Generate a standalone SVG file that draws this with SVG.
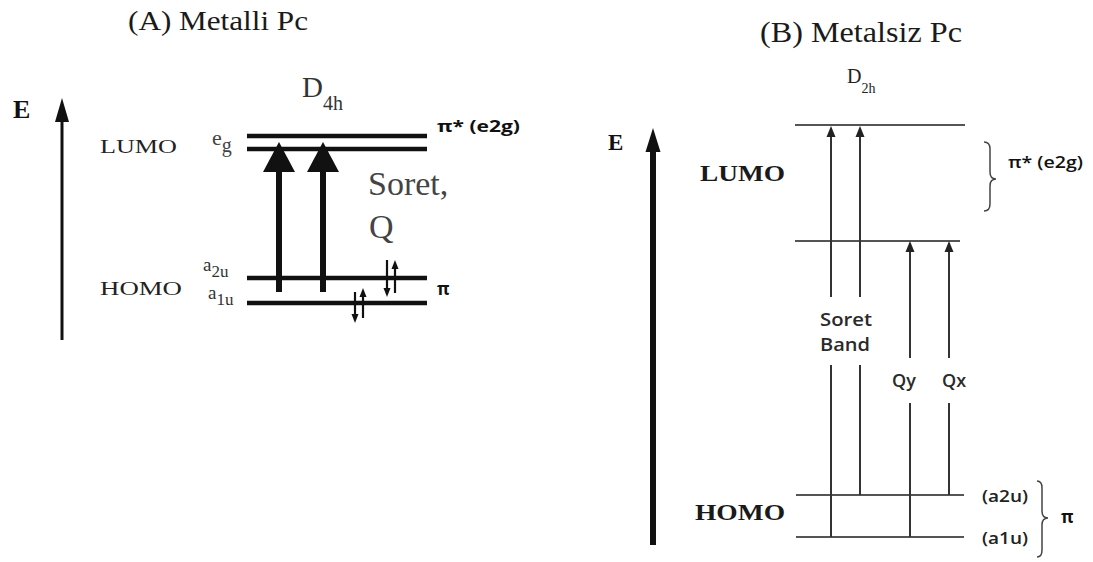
<svg xmlns="http://www.w3.org/2000/svg" width="1093" height="562" viewBox="0 0 1093 562">
<style>
.serif{font-family:"Liberation Serif","Times New Roman",serif;}
.sans{font-family:"Open Sans","Liberation Sans",Arial,sans-serif;font-weight:700;}
.cal{font-family:"Open Sans","Liberation Sans",Arial,sans-serif;font-weight:600;fill:#2a2a2a;}
.lvlA{stroke:#111;stroke-width:4.5;}
.lvlB{stroke:#555;stroke-width:2;}
.vB{stroke:#333;stroke-width:2;fill:none;}
.ea{stroke:#111;stroke-width:2.2;}
</style>
<rect width="1093" height="562" fill="#fff"/>

<!-- Panel A -->
<g id="titleA"><text class="serif" x="128" y="30" font-size="27" fill="#1a1a1a" textLength="180" lengthAdjust="spacingAndGlyphs">(A) Metalli Pc</text></g>
<g id="symA"><text class="serif" x="302" y="97" font-size="29" fill="#333">D<tspan font-size="20" dy="13">4h</tspan></text></g>
<g id="axisA">
<text class="serif" x="13" y="118" font-size="26" font-weight="bold" fill="#111">E</text>
<line x1="62" y1="340" x2="62" y2="118" stroke="#111" stroke-width="3"/>
<polygon points="55,122 69,122 62,98" fill="#111"/>
</g>
<g id="labelsA" class="serif" fill="#222">
<text x="100" y="153" font-size="19" textLength="77" lengthAdjust="spacingAndGlyphs">LUMO</text>
<text x="100" y="295" font-size="19" textLength="82" lengthAdjust="spacingAndGlyphs">HOMO</text>
</g>
<g id="lumoA">
<line class="lvlA" x1="247" y1="136" x2="427" y2="136"/>
<line class="lvlA" x1="247" y1="149" x2="427" y2="149"/>
<text class="serif" x="212" y="145" font-size="22" fill="#444">e<tspan font-size="20" dy="7">g</tspan></text>
<text class="sans" x="437" y="132" font-size="16" fill="#111" textLength="83" lengthAdjust="spacingAndGlyphs">π* (e2g)</text>
</g>
<g id="homoA">
<line class="lvlA" x1="247" y1="278" x2="427" y2="278"/>
<line class="lvlA" x1="247" y1="303" x2="427" y2="303"/>
<text class="serif" x="203" y="271" font-size="19" fill="#333">a<tspan font-size="17" dy="6">2u</tspan></text>
<text class="serif" x="208" y="299" font-size="19" fill="#333">a<tspan font-size="17" dy="6">1u</tspan></text>
<text class="sans" x="437" y="295" font-size="17" fill="#111">π</text>
</g>
<g id="electronsA">
<line class="ea" x1="387" y1="260" x2="387" y2="289"/>
<polygon points="383.5,288 390.5,288 387,297" fill="#111"/>
<line class="ea" x1="395" y1="293" x2="395" y2="268"/>
<polygon points="391.5,269 398.5,269 395,260" fill="#111"/>
<line class="ea" x1="355" y1="292" x2="355" y2="315"/>
<polygon points="351.5,314 358.5,314 355,323" fill="#111"/>
<line class="ea" x1="363" y1="318" x2="363" y2="296"/>
<polygon points="359.5,297 366.5,297 363,288" fill="#111"/>
</g>
<g id="transitionsA">
<line x1="279" y1="292" x2="279" y2="170" stroke="#111" stroke-width="6"/>
<polygon points="263,172 295,172 279,142" fill="#111"/>
<line x1="323" y1="292" x2="323" y2="170" stroke="#111" stroke-width="6"/>
<polygon points="307,172 339,172 323,142" fill="#111"/>
<text x="368" y="195" font-size="34" fill="#444" font-family="Liberation Serif, Times New Roman, serif">Soret,</text>
<text x="369" y="238" font-size="34" fill="#444" font-family="Liberation Serif, Times New Roman, serif">Q</text>
</g>

<!-- Panel B -->
<g id="titleB"><text class="serif" x="760" y="42" font-size="29" fill="#1a1a1a" textLength="202" lengthAdjust="spacingAndGlyphs">(B) Metalsiz Pc</text></g>
<g id="symB"><text class="serif" x="847" y="83" font-size="20" fill="#222">D<tspan font-size="14" dy="10">2h</tspan></text></g>
<g id="axisB">
<text class="serif" x="608" y="150" font-size="23" font-weight="bold" fill="#111">E</text>
<line x1="653" y1="545" x2="653" y2="148" stroke="#111" stroke-width="6"/>
<polygon points="645.5,152 660.5,152 653,128" fill="#111"/>
</g>
<g id="labelsB" class="serif" fill="#1a1a1a" font-weight="bold">
<text x="700" y="181" font-size="24" textLength="85" lengthAdjust="spacingAndGlyphs">LUMO</text>
<text x="695" y="520" font-size="24" textLength="90" lengthAdjust="spacingAndGlyphs">HOMO</text>
</g>
<g id="levelsB">
<line class="lvlB" x1="795" y1="125" x2="965" y2="125"/>
<line class="lvlB" x1="795" y1="241" x2="960" y2="241"/>
<line class="lvlB" x1="796" y1="495" x2="964" y2="495"/>
<line class="lvlB" x1="796" y1="537" x2="964" y2="537"/>
</g>
<g id="connectorsB">
<path class="vB" d="M831,537 V365 M831,297 V135"/>
<polygon points="826.5,137 835.5,137 831,126" fill="#222"/>
<path class="vB" d="M860,495 V365 M860,297 V135"/>
<polygon points="855.5,137 864.5,137 860,126" fill="#222"/>
<path class="vB" d="M910,537 V403 M910,358 V250"/>
<polygon points="905.5,252 914.5,252 910,241" fill="#222"/>
<path class="vB" d="M949,495 V403 M949,358 V250"/>
<polygon points="944.5,252 953.5,252 949,241" fill="#222"/>
</g>
<g id="bandLabelsB" class="cal">
<text x="820" y="326" font-size="18" textLength="52" lengthAdjust="spacingAndGlyphs">Soret</text>
<text x="820" y="351" font-size="18" textLength="50" lengthAdjust="spacingAndGlyphs">Band</text>
<text x="892" y="387" font-size="18">Qy</text>
<text x="942" y="387" font-size="18">Qx</text>
</g>
<g id="bracesB" fill="none" stroke="#444" stroke-width="1.5">
<path d="M984,142 Q990,142 990,149 L990,172 Q990,179 996,179 Q990,179 990,186 L990,204 Q990,211 984,211"/>
<path d="M1037,481 Q1042,481 1042,488 L1042,511 Q1042,518 1048,518 Q1042,518 1042,525 L1042,550 Q1042,557 1037,557"/>
</g>
<g id="orbitalLabelsB" class="cal">
<text x="1008" y="168" font-size="16" fill="#111" textLength="75" lengthAdjust="spacingAndGlyphs">π* (e2g)</text>
<text x="982" y="502" font-size="16" fill="#222" textLength="46" lengthAdjust="spacingAndGlyphs">(a2u)</text>
<text x="982" y="544" font-size="16" fill="#222" textLength="46" lengthAdjust="spacingAndGlyphs">(a1u)</text>
<text x="1061" y="523" font-size="17" fill="#111" font-weight="700">π</text>
</g>
</svg>
